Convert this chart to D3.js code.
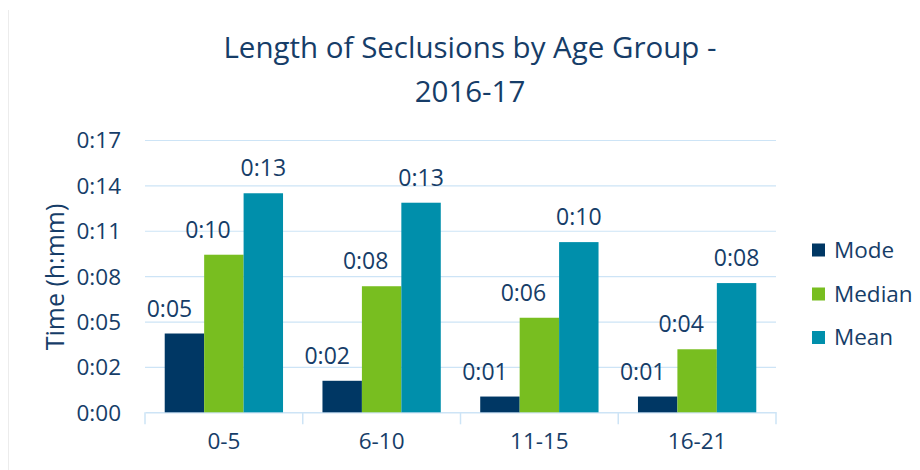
<!DOCTYPE html>
<html><head><meta charset="utf-8">
<script src="https://cdn.jsdelivr.net/npm/d3@7"></script>
<style>
body{margin:0;background:#fff}
svg{display:block}
text{font-family:"Open Sans",sans-serif;fill:#163d68}
</style>
</head><body>
<svg id="chart" width="920" height="470"></svg>
<script>
// ---- data (values in minutes) ----
const categories = ["0-5", "6-10", "11-15", "16-21"];
const seriesNames = ["Mode", "Median", "Mean"];
const modeValues = [5.0, 2.0, 1.0, 1.0];
const medianValues = [10.0, 8.0, 6.0, 4.0];
const meanValues = [13.9, 13.3, 10.8, 8.2];
const yTickMinutes = [0, 2.88, 5.76, 8.64, 11.52, 14.4, 17.28];
const titleLines = ["Length of Seclusions by Age Group -", "2016-17"];
const yAxisTitle = "Time (h:mm)";

// ---- styles ----
const colors = {Mode: "#003764", Median: "#78be20", Mean: "#008fab"};
const labelDx = {Mode: -15, Median: -16, Mean: 0};
const gridColor = "#cde4f6";
const textColor = "#163d68";

const seriesValues = {Mode: modeValues, Median: medianValues, Mean: meanValues};
const fmt = m => "0:" + String(Math.floor(m + 1e-9)).padStart(2, "0");

const svg = d3.select("#chart");
const pLeft = 145, pRight = 776, pTop = 140, pBottom = 412.3;

const y = d3.scaleLinear().domain([0, d3.max(yTickMinutes)]).range([pBottom, pTop]);
const x0 = d3.scaleBand().domain(categories).range([pLeft, pRight]).padding(0);
const bw = x0.bandwidth();
const x1 = d3.scaleBand().domain(seriesNames).range([bw / 8, bw * 7 / 8]).padding(0);

// faint chart frame line on the left
svg.append("line").attr("x1", 8.5).attr("x2", 8.5).attr("y1", 10).attr("y2", 470)
  .attr("stroke", "#ececec").attr("stroke-width", 1);

// gridlines
const grid = svg.append("g").attr("transform", `translate(${pLeft},0)`)
  .call(d3.axisLeft(y).tickValues(yTickMinutes.slice(1)).tickSize(-(pRight - pLeft)).tickFormat(""));
grid.select(".domain").remove();
grid.selectAll("line").attr("stroke", gridColor).attr("stroke-width", 1.2);

// y axis labels
const yAxis = svg.append("g").attr("transform", `translate(${pLeft},0)`)
  .call(d3.axisLeft(y).tickValues(yTickMinutes).tickSize(0).tickPadding(24).tickFormat(fmt));
yAxis.select(".domain").remove();
yAxis.selectAll("text").attr("font-size", 22.5).attr("font-family", "Open Sans")
  .attr("fill", textColor).attr("dy", "0.35em");

// x axis
const xAxis = svg.append("g").attr("transform", `translate(0,${pBottom})`)
  .call(d3.axisBottom(x0).tickSize(0).tickPadding(21));
xAxis.select(".domain").attr("stroke", gridColor).attr("stroke-width", 1.5);
xAxis.selectAll("text").attr("font-size", 22.5).attr("font-family", "Open Sans").attr("fill", textColor);
const bounds = categories.map(c => x0(c)).concat([x0(categories[categories.length - 1]) + bw]);
svg.append("g").selectAll("line").data(bounds).join("line")
  .attr("x1", d => d).attr("x2", d => d).attr("y1", pBottom).attr("y2", pBottom + 12)
  .attr("stroke", gridColor).attr("stroke-width", 1.5);

// bars
const groups = svg.append("g").selectAll("g").data(categories).join("g")
  .attr("transform", c => `translate(${x0(c)},0)`);
groups.selectAll("rect")
  .data((c, i) => seriesNames.map(s => ({s, v: seriesValues[s][i]})))
  .join("rect")
  .attr("x", d => x1(d.s)).attr("width", x1.bandwidth())
  .attr("y", d => y(d.v)).attr("height", d => y(0) - y(d.v))
  .attr("fill", d => colors[d.s]);

// data labels
groups.selectAll("text.lbl")
  .data((c, i) => seriesNames.map(s => ({s, v: seriesValues[s][i]})))
  .join("text").attr("class", "lbl")
  .attr("x", d => x1(d.s) + x1.bandwidth() / 2 + labelDx[d.s])
  .attr("y", d => y(d.v) - 17)
  .attr("text-anchor", "middle").attr("font-size", 23)
  .text(d => fmt(d.v));

// title
svg.append("g").selectAll("text").data(titleLines).join("text")
  .attr("x", 470).attr("y", (d, i) => i === 0 ? 58 : 101.5)
  .attr("text-anchor", "middle").attr("font-size", 29.5)
  .text(d => d);

// y axis title
svg.append("text")
  .attr("transform", "translate(54,277) rotate(-90)")
  .attr("text-anchor", "middle").attr("dominant-baseline", "central")
  .attr("font-size", 25).text(yAxisTitle);

// legend
const legendY = [250, 294, 337.5];
const leg = svg.append("g").selectAll("g").data(seriesNames).join("g")
  .attr("transform", (d, i) => `translate(812,${legendY[i]})`);
leg.append("rect").attr("x", 0).attr("y", -6.5).attr("width", 13).attr("height", 13)
  .attr("fill", d => colors[d]);
leg.append("text").attr("x", 22).attr("y", 0).attr("dy", "0.35em")
  .attr("font-size", 22.5).text(d => d);
</script>
</body></html>
